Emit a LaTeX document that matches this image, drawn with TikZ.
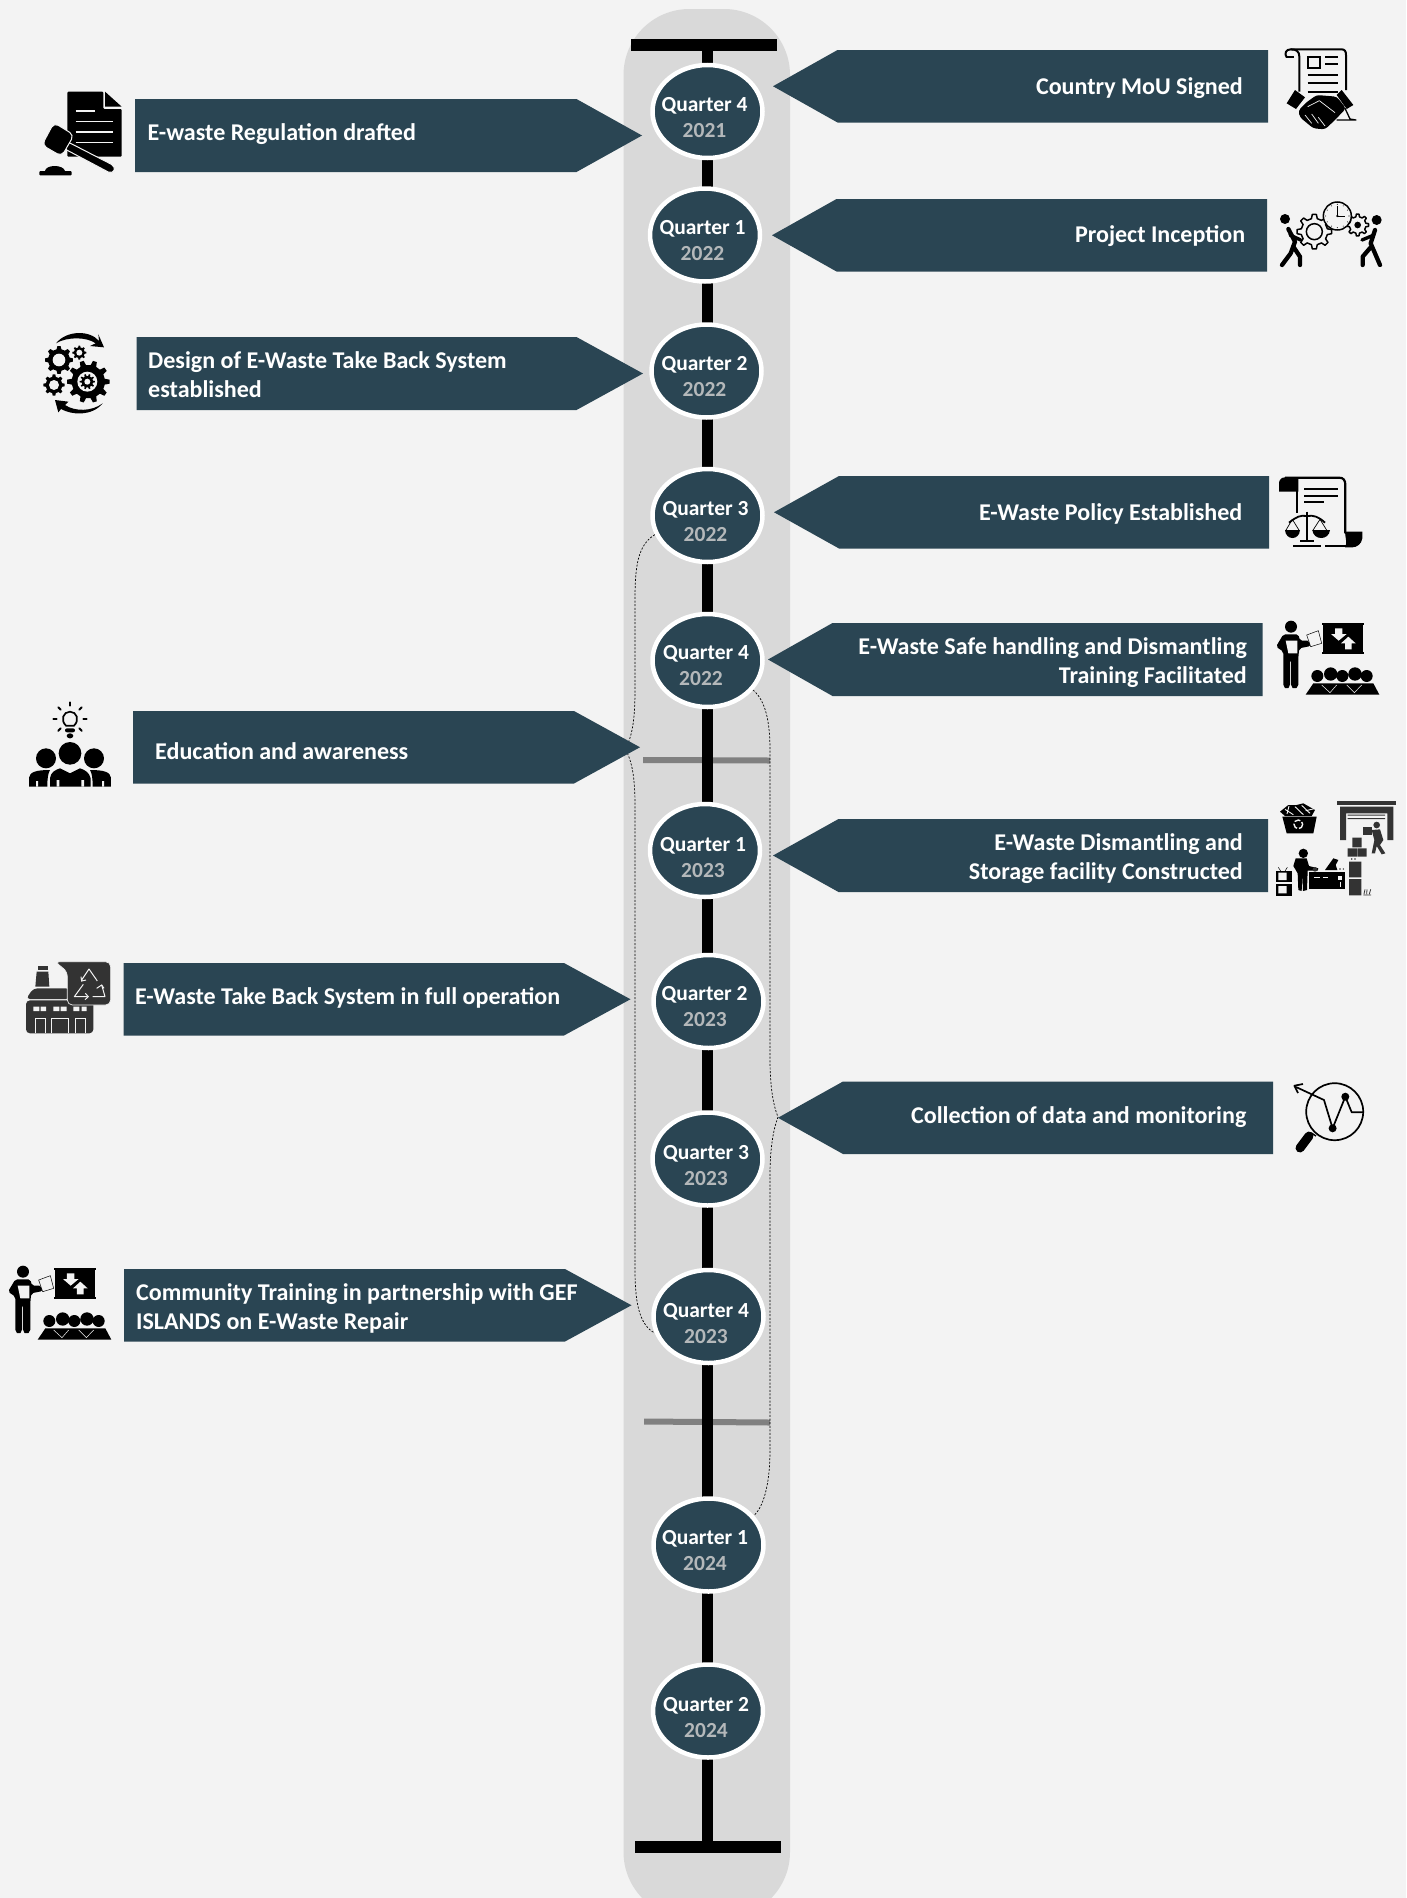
\documentclass[tikz,border=0pt]{standalone}
\usepackage{fontspec}
\setmainfont{Carlito}
\usetikzlibrary{shapes.geometric}
\definecolor{pagebg}{HTML}{F3F3F3}
\definecolor{bandc}{HTML}{D9D9D9}
\definecolor{navy}{HTML}{2A4553}
\definecolor{yearc}{HTML}{B4B8BA}
\definecolor{greyl}{HTML}{808080}
\definecolor{dark}{HTML}{333333}
\tikzset{
  qoval/.style={ellipse,draw=white,line width=4.5pt,fill=navy,minimum width=110pt,minimum height=93pt,inner sep=0pt},
  qtext/.style={text=white,font=\bfseries\fontsize{21.5}{26}\selectfont,inner sep=0pt},
  ytext/.style={text=yearc,font=\bfseries\fontsize{21.5}{26}\selectfont,inner sep=0pt},
  lab/.style={text=white,font=\bfseries\fontsize{24.05}{29}\selectfont,inner sep=0pt},
  labl/.style={lab,anchor=west,align=left},
  labr/.style={lab,anchor=east,align=right},
  bfill/.style={fill=navy},
  brace/.style={line width=.7pt,black,dash pattern=on 2pt off 1.6pt},
  icon/.style={scale=1/3},
  blackgear/.style={fill=black},
  holegear/.style={fill=pagebg,draw=black,line width=1.5pt,line join=round},
}
% gear: cx cy R r n options
\newcommand{\gearshape}[6]{%
  \path[shift={(#1,#2)},#6] ({0.72*360/#5}:#4) \foreach \k in {1,...,#5}{ -- ({(\k-0.28)*360/#5}:#4) -- ({(\k-0.15)*360/#5}:#3) -- ({(\k+0.15)*360/#5}:#3) -- ({(\k+0.28)*360/#5}:#4)} -- cycle;%
}
\newcommand{\bannerR}[6]{% name xl xs xt yt yb
  \fill[bfill] (#2,#5) -- (#3,#5) -- (#4,{(#5+#6)/2}) -- (#3,#6) -- (#2,#6) -- cycle;
  \coordinate (#1) at (#4,{(#5+#6)/2});}
\newcommand{\bannerL}[6]{% name xr xs xt yt yb
  \fill[bfill] (#2,#5) -- (#3,#5) -- (#4,{(#5+#6)/2}) -- (#3,#6) -- (#2,#6) -- cycle;
  \coordinate (#1) at (#4,{(#5+#6)/2});}
\newcommand{\trainingicon}{%
  \fill (78,470) circle (18);
  \fill[rounded corners=2pt] (55,493) -- (100,493) -- (105,512) -- (133,512) -- (137,528) -- (103,535) -- (100,560) -- (100,650) -- (88,658) -- (78,650) -- (78,570) -- (75,570) -- (75,650) -- (65,658) -- (55,650) -- (55,545) -- (33,530) -- cycle;
  \fill[pagebg] (62,512) -- (97,512) -- (97,550) -- (70,550) -- cycle;
  \filldraw[fill=pagebg,draw=black,line width=.5pt] (125,495) -- (160,482) -- (170,520) -- (137,530) -- cycle;
  \fill (175,465) rectangle (295,545);
  \fill (172,459) rectangle (296,464);
  \fill (172,546) rectangle (296,551);
  \fill[pagebg] (210,475) -- (232,475) -- (232,492) -- (245,492) -- (221,512) -- (198,492) -- (210,492) -- cycle;
  \fill[pagebg] (250,500) -- (272,520) -- (260,520) -- (260,538) -- (240,538) -- (240,520) -- (228,520) -- cycle;
  \fill (157,618) circle (18) (197,612) circle (20) (232,618) circle (18) (270,612) circle (20) (305,618) circle (18);
  \fill (145,640) -- (325,640) -- (343,674) -- (122,674) -- cycle;
  \draw[pagebg,line width=.5pt] (170,645) -- (195,668) -- (215,645) (245,645) -- (268,668) -- (290,645);
}
\begin{document}
\begin{tikzpicture}[x=1pt,y=-1pt]
\useasboundingbox (0,0) rectangle (1406,1898);
\clip (0,0) rectangle (1406,1898);
\fill[pagebg] (0,0) rectangle (1406,1898);
\fill[bandc,rounded corners=66pt] (623.5,9) rectangle (790,1918);
% grey markers
\fill[greyl] (643,757) -- (770,757.5) -- (770,763.5) -- (643,763) -- cycle;
\fill[greyl] (644,1418.5) -- (770,1419.5) -- (770,1425.5) -- (644,1424.5) -- cycle;
% spine
\coordinate (spinetop) at (707.5,45);
\coordinate (spinebot) at (707.5,1847);
\draw[black,line width=11.6pt] (spinetop) -- (spinebot);
\node[fill=black,minimum width=146pt,minimum height=12pt,inner sep=0pt] (topbar) at (704,45) {};
\node[fill=black,minimum width=146pt,minimum height=12pt,inner sep=0pt] (botbar) at (707.5,1847) {};
% ovals
\node[qoval] (q421) at (707.5,111.5) {};
\node[qoval] (q122) at (705,235) {};
\node[qoval] (q222) at (706.5,371) {};
\node[qoval] (q322) at (707.5,515.5) {};
\node[qoval] (q422) at (707.5,660.5) {};
\node[qoval] (q123) at (705,850.5) {};
\node[qoval] (q223) at (708.5,1001.5) {};
\node[qoval] (q323) at (707.5,1159) {};
\node[qoval] (q423) at (708.5,1316.5) {};
\node[qoval] (q124) at (708.5,1545) {};
\node[qoval] (q224) at (708,1711) {};
\node[qtext] (tq421) at (704.5,105.5) {Quarter 4}; \node[ytext] (ty421) at (704.5,131) {2021};
\node[qtext] (tq122) at (702.5,228.5) {Quarter 1}; \node[ytext] (ty122) at (702.5,254) {2022};
\node[qtext] (tq222) at (704.5,364.5) {Quarter 2}; \node[ytext] (ty222) at (704.5,390) {2022};
\node[qtext] (tq322) at (705.5,509.5) {Quarter 3}; \node[ytext] (ty322) at (705.5,535) {2022};
\node[qtext] (tq422) at (706,653.5) {Quarter 4}; \node[ytext] (ty422) at (701,679) {2022};
\node[qtext] (tq123) at (703,845.5) {Quarter 1}; \node[ytext] (ty123) at (703,870.5) {2023};
\node[qtext] (tq223) at (704.5,994.5) {Quarter 2}; \node[ytext] (ty223) at (705,1020) {2023};
\node[qtext] (tq323) at (706,1153.5) {Quarter 3}; \node[ytext] (ty323) at (706,1178.5) {2023};
\node[qtext] (tq423) at (706,1311.5) {Quarter 4}; \node[ytext] (ty423) at (706,1336.5) {2023};
\node[qtext] (tq124) at (705,1539) {Quarter 1}; \node[ytext] (ty124) at (705,1564) {2024};
\node[qtext] (tq224) at (706,1705.5) {Quarter 2}; \node[ytext] (ty224) at (706,1730.5) {2024};
% braces
\coordinate (ltip) at (625,749);
\coordinate (rtip) at (778,1117);
\draw[brace] (q322.200) .. controls (638,545) and (635,565) .. (635,600) -- (635,690) .. controls (635,720) and (632,738) .. (ltip) .. controls (632,760) and (635,778) .. (635,805) -- (635,1270) .. controls (635,1305) and (640,1325) .. (q423.197);
\draw[brace] (q422.-33) .. controls (765,700) and (770,720) .. (770,750) -- (770,1060) .. controls (770,1085) and (773,1105) .. (rtip) .. controls (773,1130) and (770,1150) .. (770,1175) -- (770,1450) .. controls (770,1480) and (765,1505) .. (q124.33);
% banners
\bannerR{b1}{135}{576.5}{642}{99}{172}
\node[labl] (lb1) at (147.5,134.5) {E-waste Regulation drafted};
\bannerR{b2}{136.5}{576.5}{643}{337}{410}
\node[labl] (lb2) at (148,374.5) {Design of E-Waste Take Back System\\established};
\bannerR{b3}{133}{574}{640}{711}{783.5}
\node[labl] (lb3) at (155,751) {Education and awareness};
\bannerR{b4}{123.5}{564}{630.5}{963}{1035.5}
\node[labl] (lb4) at (135,997.5) {E-Waste Take Back System in full operation};
\bannerR{b5}{124}{565}{631.5}{1269}{1341.5}
\node[labl] (lb5) at (136,1308) {Community Training in partnership with GEF\\ISLANDS on E-Waste Repair};
\bannerL{b6}{1268}{837.5}{773}{50}{122.5}
\node[labr] (lb6) at (1243,88) {Country MoU Signed};
\bannerL{b7}{1267}{836.5}{772}{199}{271.5}
\node[labr] (lb7) at (1245.5,236) {Project Inception};
\bannerL{b8}{1269}{839}{774}{476}{548.5}
\node[labr] (lb8) at (1242.5,513.5) {E-Waste Policy Established};
\bannerL{b9}{1262.5}{832.5}{768}{623}{696}
\node[labr] (lb9) at (1247,662.5) {E-Waste Safe handling and Dismantling\\Training Facilitated};
\bannerL{b10}{1268}{838.5}{773}{819}{892}
\node[labr] (lb10) at (1243,858.5) {E-Waste Dismantling and\\Storage facility Constructed};
\bannerL{b11}{1273}{843}{778}{1081.5}{1154}
\node[labr] (lb11) at (1246.5,1117.5) {Collection of data and monitoring};
% ---- icons ----
% gavel + gears
\begin{scope}[shift={(30,85)},icon]
  \fill[rounded corners=1pt] (112,20) -- (220,20) -- (220,72) -- (275,72) -- (275,215) -- (112,215) -- cycle;
  \fill (225,20) -- (275,65) -- (225,65) -- cycle;
  \draw[pagebg,line width=1.5pt] (137,78) -- (195,78) (137,110) -- (250,110) (137,141) -- (250,141) (137,172) -- (250,172);
  \filldraw[draw=pagebg,line width=1pt,fill=black,rounded corners=5pt] (108,168) -- (258,245) -- (248,268) -- (97,188) -- cycle;
  \filldraw[draw=pagebg,line width=1pt,fill=black,rounded corners=5pt] (72,113) -- (132,150) -- (95,214) -- (36,180) -- cycle;
  \fill (45,258) .. controls (48,238) and (100,238) .. (105,258) -- cycle;
  \fill[rounded corners=1pt] (28,258) rectangle (125,271);
  % gears
  \gearshape{175}{890}{64}{50}{10}{blackgear}
  \fill[pagebg] (172,890) circle (30);
  \gearshape{172}{890}{23}{17}{10}{blackgear}
  \fill[pagebg] (172,890) circle (9);
  \gearshape{87}{825}{42}{33}{8}{blackgear}
  \fill[pagebg] (87,825) circle (19);
  \gearshape{72}{900}{32}{25}{8}{blackgear}
  \fill[pagebg] (72,900) circle (15);
  \gearshape{148}{803}{21}{16}{8}{blackgear}
  \fill[pagebg] (148,803) circle (9);
  \fill (78,775) .. controls (110,735) and (180,735) .. (207,768) -- (205,748) -- (222,787) -- (180,783) -- (197,775) .. controls (170,755) and (110,755) .. (78,775) -- cycle;
  \fill (218,955) .. controls (185,995) and (125,990) .. (93,972) -- (85,982) -- (75,945) -- (115,950) -- (105,960) .. controls (135,980) and (185,980) .. (218,955) -- cycle;
\end{scope}
% MoU + project inception
\begin{scope}[shift={(1270,40)},icon]
  \draw[line width=2pt,line join=round] (50,52) .. controls (42,40) and (48,28) .. (62,28) -- (215,28) .. controls (225,28) and (228,35) .. (228,45) -- (228,150);
  \draw[line width=2pt] (62,28) .. controls (80,28) and (88,35) .. (88,50) -- (88,155);
  \draw[line width=2pt] (48,50) -- (72,50);
  \draw[line width=2.2pt] (115,52) rectangle (150,85);
  \draw[line width=2.2pt] (165,52) -- (205,52) (165,72) -- (205,72) (113,105) -- (205,105) (113,130) -- (205,130) (113,155) -- (205,155);
  \draw[line width=1.3pt,line join=round] (225,205) -- (240,237) -- (258,240) -- (200,240);
  \fill (75,150) -- (105,172) -- (78,207) -- (50,190) -- cycle;
  \fill (215,150) -- (250,195) -- (230,207) -- (200,165) -- cycle;
  \fill[rounded corners=3pt] (108,188) -- (140,165) -- (200,170) -- (228,205) -- (195,240) -- (165,268) -- (130,265) -- (90,232) -- (85,212) -- cycle;
  \draw[pagebg,line width=.7pt] (113,200) -- (148,182) -- (195,218) (105,225) -- (125,250) (125,222) -- (145,250) (145,232) -- (165,258);
  % project inception
  \gearshape{133}{575}{52}{40}{8}{holegear}
  \draw[line width=1.5pt] (133,575) circle (24);
  \gearshape{263}{555}{33}{25}{8}{holegear}
  \fill (263,555) circle (10);
  \filldraw[fill=pagebg,draw=black,line width=1.5pt] (202,528) circle (42);
  \foreach \a in {0,30,...,330}{\fill (202,528) ++(\a:35) circle (1.6);}
  \draw[line width=.8pt] (202,498) -- (202,528) -- (226,528);
  \fill (202,528) circle (3.5);
  \fill (45,537) circle (15) (320,540) circle (15);
  \draw[line width=4.3pt,line cap=round,line join=round] (55,567) -- (75,605) -- (62,640) -- (36,675);
  \draw[line width=4.3pt,line cap=round,line join=round] (70,620) -- (90,650) -- (90,675);
  \draw[line width=3.4pt,line cap=round] (60,585) -- (92,600);
  \draw[line width=4.3pt,line cap=round,line join=round] (315,570) -- (302,610) -- (330,675);
  \draw[line width=4.3pt,line cap=round,line join=round] (302,622) -- (278,650) -- (278,675);
  \draw[line width=3.4pt,line cap=round] (312,585) -- (276,600);
\end{scope}
% policy + training
\begin{scope}[shift={(1265,470)},icon]
  \fill (42,65) -- (42,38) .. controls (44,28) and (50,22) .. (60,22) -- (100,22) -- (100,65) -- cycle;
  \draw[line width=2.2pt] (60,23) -- (222,23) .. controls (235,23) and (241,30) .. (241,45) -- (241,190);
  \draw[line width=2.2pt] (97,30) -- (97,130);
  \draw[line width=2pt] (118,58) -- (218,58) (118,78) -- (218,78) (118,97) -- (178,97);
  \fill (240,185) -- (292,185) -- (292,205) .. controls (290,222) and (275,232) .. (262,232) -- (240,232) .. controls (248,220) and (240,200) .. (240,185) -- cycle;
  \draw[line width=2pt] (180,229) -- (262,229) (85,229) -- (168,229);
  \draw[line width=2pt] (126,125) -- (126,212);
  \draw[line width=2.2pt] (105,212) -- (148,212);
  \draw[line width=1.8pt] (72,158) .. controls (95,140) and (105,135) .. (126,138) .. controls (147,135) and (160,140) .. (180,158);
  \draw[line width=.7pt] (82,148) -- (62,182) (82,148) -- (103,182) (165,148) -- (143,182) (165,148) -- (186,182);
  \fill (60,180) -- (105,180) .. controls (103,212) and (62,212) .. (60,180) -- cycle;
  \fill (142,180) -- (195,180) .. controls (192,212) and (145,212) .. (142,180) -- cycle;
  \trainingicon
\end{scope}
\begin{scope}[shift={(-3,1115)},icon]
  \trainingicon
\end{scope}
% facility
\begin{scope}[shift={(1265,790)},icon]
  \fill[dark] (217,32) rectangle (392,44);
  \fill[dark] (225,50) rectangle (385,70) (225,50) rectangle (243,150) (367,50) rectangle (385,150);
  \fill[dark] (248,74) rectangle (360,77) (248,84) rectangle (360,87);
  \fill[dark] (335,105) circle (10);
  \fill[dark] (320,120) -- (345,118) -- (355,150) -- (345,165) -- (361,190) -- (350,193) -- (335,168) -- (330,190) -- (320,190) -- (328,150) -- cycle;
  \fill[dark] (295,110) rectangle (322,135);
  \fill[dark] (262,143) rectangle (290,172) (248,175) rectangle (276,200) (278,175) rectangle (305,200);
  \fill[dark] (260,207) circle (2.5) (270,207) circle (2.5);
  \fill[dark] (252,215) rectangle (289,262) (252,267) rectangle (289,316);
  \draw[dark,line width=.8pt] (297,312) -- (300,298) (305,312) -- (306,298) (313,312) -- (317,298) (295,315) -- (318,315);
  \fill[black] (115,190) circle (14);
  \fill[black] (92,205) -- (125,205) -- (132,228) -- (160,235) -- (158,242) -- (128,242) -- (126,300) -- (114,303) -- (112,255) -- (110,303) -- (100,300) -- (98,250) -- (85,228) -- cycle;
  \fill[black] (132,245) rectangle (240,298);
  \draw[pagebg,line width=.8pt] (148,263) -- (165,263) (175,263) -- (190,263) (225,275) -- (225,290);
  \fill[pagebg] (218,258) rectangle (230,270);
  \fill[black] (180,240) -- (205,205) -- (220,210) -- (212,225) -- (217,240) -- cycle;
  \fill[dark] (225,237) circle (2.5) (235,237) circle (2.5) (150,238) circle (7);
  \filldraw[fill=black,draw=black] (35,243) rectangle (80,275) (35,283) rectangle (80,315);
  \fill[pagebg] (40,248) rectangle (65,270) (40,288) rectangle (65,310);
  \draw[line width=.5pt] (47,243) -- (40,232) (60,243) -- (67,232);
  \fill (52,80) -- (155,80) -- (145,130) -- (65,130) -- cycle;
  \draw[pagebg,line width=1.4pt,dash pattern=on 6pt off 2pt] (100,103) circle (13);
  \fill (45,65) -- (70,45) -- (95,45) -- (115,40) -- (150,60) -- (140,78) -- (60,78) -- cycle;
  \draw[pagebg,line width=.9pt] (60,58) -- (85,74) (72,48) -- (66,72) (90,50) -- (115,74) (110,46) -- (135,70) (122,62) -- (148,56);
\end{scope}
% bulb + people + factory
\begin{scope}[shift={(20,695)},icon]
  \draw[line width=1.7pt] (138,92) .. controls (120,75) and (130,50) .. (150,50) .. controls (170,50) and (180,75) .. (162,92) -- cycle;
  \fill[rounded corners=2pt] (135,100) rectangle (165,112);
  \fill[rounded corners=3pt] (140,115) rectangle (160,130);
  \begin{scope}[shift={(150,72)}]
    \foreach \a in {0,45,135,180,225,270,315}{\draw[line width=2pt,line cap=round] (\a:40) -- (\a:50);}
  \end{scope}
  \fill (78,190) circle (30) (150,175) circle (34) (222,190) circle (30);
  \fill (90,275) -- (90,250) .. controls (92,232) and (105,225) .. (120,220) -- (150,235) -- (180,220) .. controls (195,225) and (208,232) .. (212,250) -- (212,275) -- cycle;
  \fill (27,275) -- (27,248) .. controls (30,232) and (45,225) .. (90,225) .. controls (84,235) and (82,250) .. (82,275) -- cycle;
  \fill (273,275) -- (273,248) .. controls (270,232) and (255,225) .. (210,225) .. controls (216,235) and (218,250) .. (218,275) -- cycle;
  \fill[pagebg] (110,255) rectangle (118,275) (184,255) rectangle (192,275) (48,258) rectangle (54,275) (246,258) rectangle (252,275);
  % factory
  \fill[dark] (53,812) rectangle (83,825);
  \fill[dark] (50,830) -- (85,830) -- (88,875) -- (46,875) -- cycle;
  \fill[dark,rounded corners=4pt] (18,912) -- (40,880) -- (150,880) -- (150,912) -- cycle;
  \fill[dark,rounded corners=4pt] (18,916) rectangle (220,1015);
  \fill[pagebg] (40,935) rectangle (58,948) (62,935) rectangle (78,948) (100,935) rectangle (118,948) (122,935) rectangle (140,948) (160,935) rectangle (178,948) (185,935) rectangle (200,948);
  \draw[pagebg,line width=.8pt] (45,1015) -- (45,970) -- (75,970) -- (75,1015) (95,1015) -- (95,970) -- (145,970) -- (145,1015) (167,1015) -- (167,970) -- (195,970) -- (195,1015);
  \filldraw[fill=dark,draw=pagebg,line width=.7pt,rounded corners=5pt] (105,800) -- (272,800) -- (272,930) -- (142,930) -- (142,830) -- cycle;
  \draw[pagebg,line width=1pt,line join=round] (185,855) -- (207,822) -- (232,858) (190,868) -- (163,905) -- (203,905) (218,905) -- (255,905) -- (245,870);
  \draw[pagebg,line width=1pt] (183,845) -- (185,858) -- (198,855) (196,895) -- (205,905) -- (195,914) (230,880) -- (245,870) -- (252,880);
\end{scope}
% monitoring (real pixels)
\draw[line width=1.7pt] (1334.7,1111.7) circle (28.5);
\draw[line width=9pt,line cap=round] (1309,1136) -- (1300,1148);
\draw[line width=1.4pt] (1311.4,1133) -- (1316,1136);
\draw[line width=1.7pt,line join=round] (1296,1087) -- (1324,1100) -- (1332.6,1128.3) -- (1345.3,1096.7) -- (1351.7,1112.3) -- (1363.6,1112.3);
\draw[line width=1.7pt,line join=round] (1303,1084) -- (1294.4,1085.7) -- (1298,1093);
\fill (1332.6,1128.3) circle (4) (1345.3,1096.7) circle (4);
\end{tikzpicture}
\end{document}
